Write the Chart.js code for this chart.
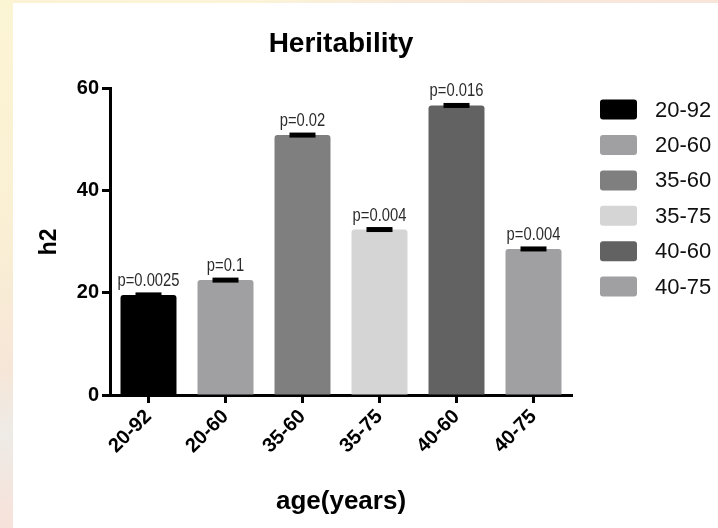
<!DOCTYPE html>
<html>
<head>
<meta charset="utf-8">
<script src="https://cdn.jsdelivr.net/npm/chart.js@4"></script>
<style>
  body { margin: 0; width: 718px; height: 528px; position: relative; overflow: hidden;
         background: linear-gradient(90deg, #fbf3d3 0%, #fbf4d8 35%, #f8e9db 60%, #f7e5d9 100%); }
  #leftStrip { position: absolute; left: 0; top: 0; width: 13px; height: 528px;
               background: linear-gradient(180deg, #fcf5d4 0%, #faefd4 45%, #f6e6d8 70%, #eeebe6 82%, #f7e2da 100%); }
  #panel { position: absolute; left: 13px; top: 3px; right: 0; bottom: 0; background: #fff; }
  #wrap { position: absolute; left: 0; top: 0; width: 718px; height: 528px; }
</style>
</head>
<body>
<div id="leftStrip"></div>
<div id="panel"></div>
<div id="wrap"><canvas id="grafico"></canvas></div>
<script>
// dados
const categories = ['20-92', '20-60', '35-60', '35-75', '40-60', '40-75'];
const h2Values = [19.6, 22.5, 50.9, 32.4, 56.7, 28.6];
const pLabels = ['p=0.0025', 'p=0.1', 'p=0.02', 'p=0.004', 'p=0.016', 'p=0.004'];
const barColors = ['#000000', '#a0a0a3', '#7f7f7f', '#d5d5d5', '#626262', '#a0a0a3'];
const yTickStep = 20;

const boldFont = '"Liberation Sans", Arial, sans-serif';

// rótulos de p e barras de erro
const pValuePlugin = {
    id: 'pValues',
    afterDatasetsDraw(chart) {
        const ctx = chart.ctx;
        const meta = chart.getDatasetMeta(0);
        const yScale = chart.scales.y;
        meta.data.forEach((bar, i) => {
            const top = yScale.getPixelForValue(h2Values[i]);
            ctx.save();
            ctx.fillStyle = '#000';
            ctx.fillRect(bar.x - 13, top - 2.5, 26, 5);
            // fonte estreita: comprime horizontalmente
            ctx.translate(bar.x, top - 9);
            ctx.scale(0.82, 1);
            ctx.fillStyle = '#2b2b2b';
            ctx.font = '18px ' + boldFont;
            ctx.textAlign = 'center';
            ctx.textBaseline = 'alphabetic';
            ctx.fillText(pLabels[i], 0, 0);
            ctx.restore();
        });
    }
};

// legenda à direita
const legendPlugin = {
    id: 'sideLegend',
    afterDraw(chart) {
        const ctx = chart.ctx;
        const area = chart.chartArea;
        const x0 = area.right + 28;
        const y0 = area.top + 11;
        ctx.save();
        categories.forEach((label, i) => {
            const y = y0 + i * 35.4;
            ctx.fillStyle = barColors[i];
            ctx.beginPath();
            ctx.roundRect(x0, y, 37, 20, 3);
            ctx.fill();
            ctx.fillStyle = '#111';
            ctx.font = '22px ' + boldFont;
            ctx.textAlign = 'left';
            ctx.textBaseline = 'middle';
            ctx.fillText(label, x0 + 55, y + 11);
        });
        ctx.restore();
    }
};

new Chart(document.getElementById('grafico'), {
    type: 'bar',
    data: {
        labels: categories,
        datasets: [{
            data: h2Values,
            backgroundColor: barColors,
            barPercentage: 0.727,
            categoryPercentage: 1,
            borderRadius: { topLeft: 3, topRight: 3 },
            borderSkipped: 'start'
        }]
    },
    options: {
        responsive: true,
        maintainAspectRatio: false,
        animation: false,
        layout: { padding: { left: 0, right: 146, top: 0, bottom: 0 } },
        plugins: {
            legend: { display: false },
            tooltip: { enabled: false },
            title: {
                display: true,
                fullSize: false,
                text: 'Heritability',
                color: '#000',
                font: { family: boldFont, size: 28, weight: 'bold' },
                padding: { top: 27, bottom: 28 }
            }
        },
        scales: {
            y: {
                min: 0,
                max: 60,
                ticks: { stepSize: yTickStep, color: '#000', padding: 3,
                         font: { family: boldFont, size: 20, weight: 'bold' } },
                grid: { drawOnChartArea: false, drawTicks: true, tickLength: 8, tickWidth: 3, tickColor: '#000' },
                border: { display: true, color: '#000', width: 3 },
                title: { display: true, text: 'h2', color: '#000',
                         font: { family: boldFont, size: 23, weight: 'bold' },
                         padding: { top: 36, bottom: 0 } },
                afterFit: s => { s.width = 110; }
            },
            x: {
                offset: true,
                ticks: { color: '#000', padding: 2, minRotation: 45, maxRotation: 45,
                         font: { family: boldFont, size: 20, weight: 'bold' } },
                grid: { offset: false, drawOnChartArea: false, drawTicks: true, tickLength: 8, tickWidth: 3, tickColor: '#000' },
                border: { display: true, color: '#000', width: 3 },
                title: { display: true, text: 'age(years)', color: '#000',
                         font: { family: boldFont, size: 26, weight: 'bold' },
                         padding: { top: 0, bottom: 11 } },
                afterFit: s => { s.height = 133; }
            }
        }
    },
    plugins: [pValuePlugin, legendPlugin]
});
</script>
</body>
</html>
